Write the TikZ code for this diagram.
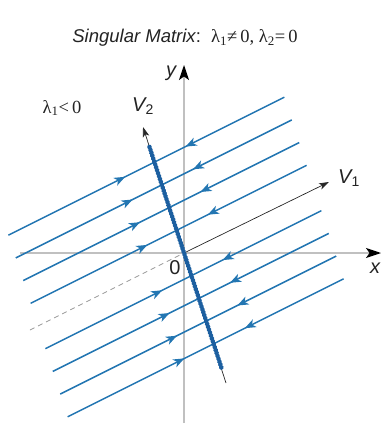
\documentclass[tikz,border=0pt]{standalone}
\usepackage{fontspec}
\setmainfont{Liberation Sans}
\newfontfamily\serifl{Liberation Serif}
\usetikzlibrary{arrows.meta,decorations.markings}
\definecolor{flow}{RGB}{35,118,178}
\definecolor{dotc}{RGB}{28,95,160}
\definecolor{axisg}{RGB}{192,192,192}
\definecolor{txt}{RGB}{35,35,35}
\begin{document}
\begin{tikzpicture}[x=1pt,y=-1pt,
  flowline/.style={draw=flow,line width=1.5pt},
  flowarrow/.style={postaction={decorate,decoration={markings,
     mark=at position #1 with {\arrow[flow]{Stealth[length=11pt,width=8.5pt,inset=3pt]}}}}},
  axisline/.style={draw=axisg,line width=1.2pt,-{Stealth[length=15pt,width=10pt,inset=3.5pt,color=black]}},
  thinarrow/.style={draw=black!85,line width=0.7pt,-{Stealth[length=10pt,width=6.5pt,inset=2.5pt]}},
  lbl/.style={inner sep=0pt,text=txt,font=\fontsize{20}{22}\selectfont\itshape},
  ttl/.style={inner sep=0pt,text=txt,font=\fontsize{18.5}{21}\selectfont}]
\useasboundingbox (0,0) rectangle (382,436);
% axes
\coordinate (O) at (184,253);
\coordinate (xs) at (20,253);
\coordinate (xe) at (381,253);
\coordinate (ys) at (184,423);
\coordinate (ye) at (184,65);
\draw[axisline] (xs) -- (xe);
\draw[axisline] (ys) -- (ye);
% V1 direction
\coordinate (V1end) at (329,182);
\coordinate (V1back) at (30,330);
\draw[draw=gray!80,line width=0.8pt,dash pattern=on 5pt off 4pt] (V1back) -- (O);
\draw[thinarrow] (O) -- (V1end);
% flow lines
\foreach \k in {-4,-3,-2,-1,1,2,3,4} {
  \pgfmathsetmacro\xi{184+7.4*\k}
  \pgfmathsetmacro\yi{253+22.7*\k}
  \coordinate (I\k) at (\xi,\yi);
  \coordinate (L\k) at (\xi-146,\yi+73);
  \coordinate (R\k) at (\xi+130,\yi-65);
  \draw[flowline,flowarrow=0.8] (L\k) -- (I\k);
  \draw[flowline,flowarrow=0.76] (R\k) -- (I\k);
}
% V2 direction
\coordinate (V2low) at (226,383);
\coordinate (V2tip) at (143,127);
\coordinate (V2a) at (149.5,147);
\coordinate (V2b) at (221.5,368);
\draw[thinarrow] (V2low) -- (V2tip);
\draw[dotc,line width=4.6pt,line cap=round,dash pattern=on 0.05pt off 3pt] (V2a) -- (V2b);
% labels
\node[ttl] (title) at (185,38) {{\itshape Singular Matrix}:\ \ {\serifl λ\textsubscript{1}≠\,0, λ\textsubscript{2}=\,0}};
\node[ttl] (lam) at (62,108) {\serifl λ\textsubscript{1}<\,0};
\node[lbl] (xl) at (375,268) {x};
\node[lbl] (yl) at (171,73) {y};
\node[lbl] (v1l) at (349,178) {V\textsubscript{\upshape 1}};
\node[lbl] (v2l) at (143,106) {V\textsubscript{\upshape 2}};
\node[lbl,font=\fontsize{20}{22}\selectfont] (zero) at (175,268) {0};
\end{tikzpicture}
\end{document}
